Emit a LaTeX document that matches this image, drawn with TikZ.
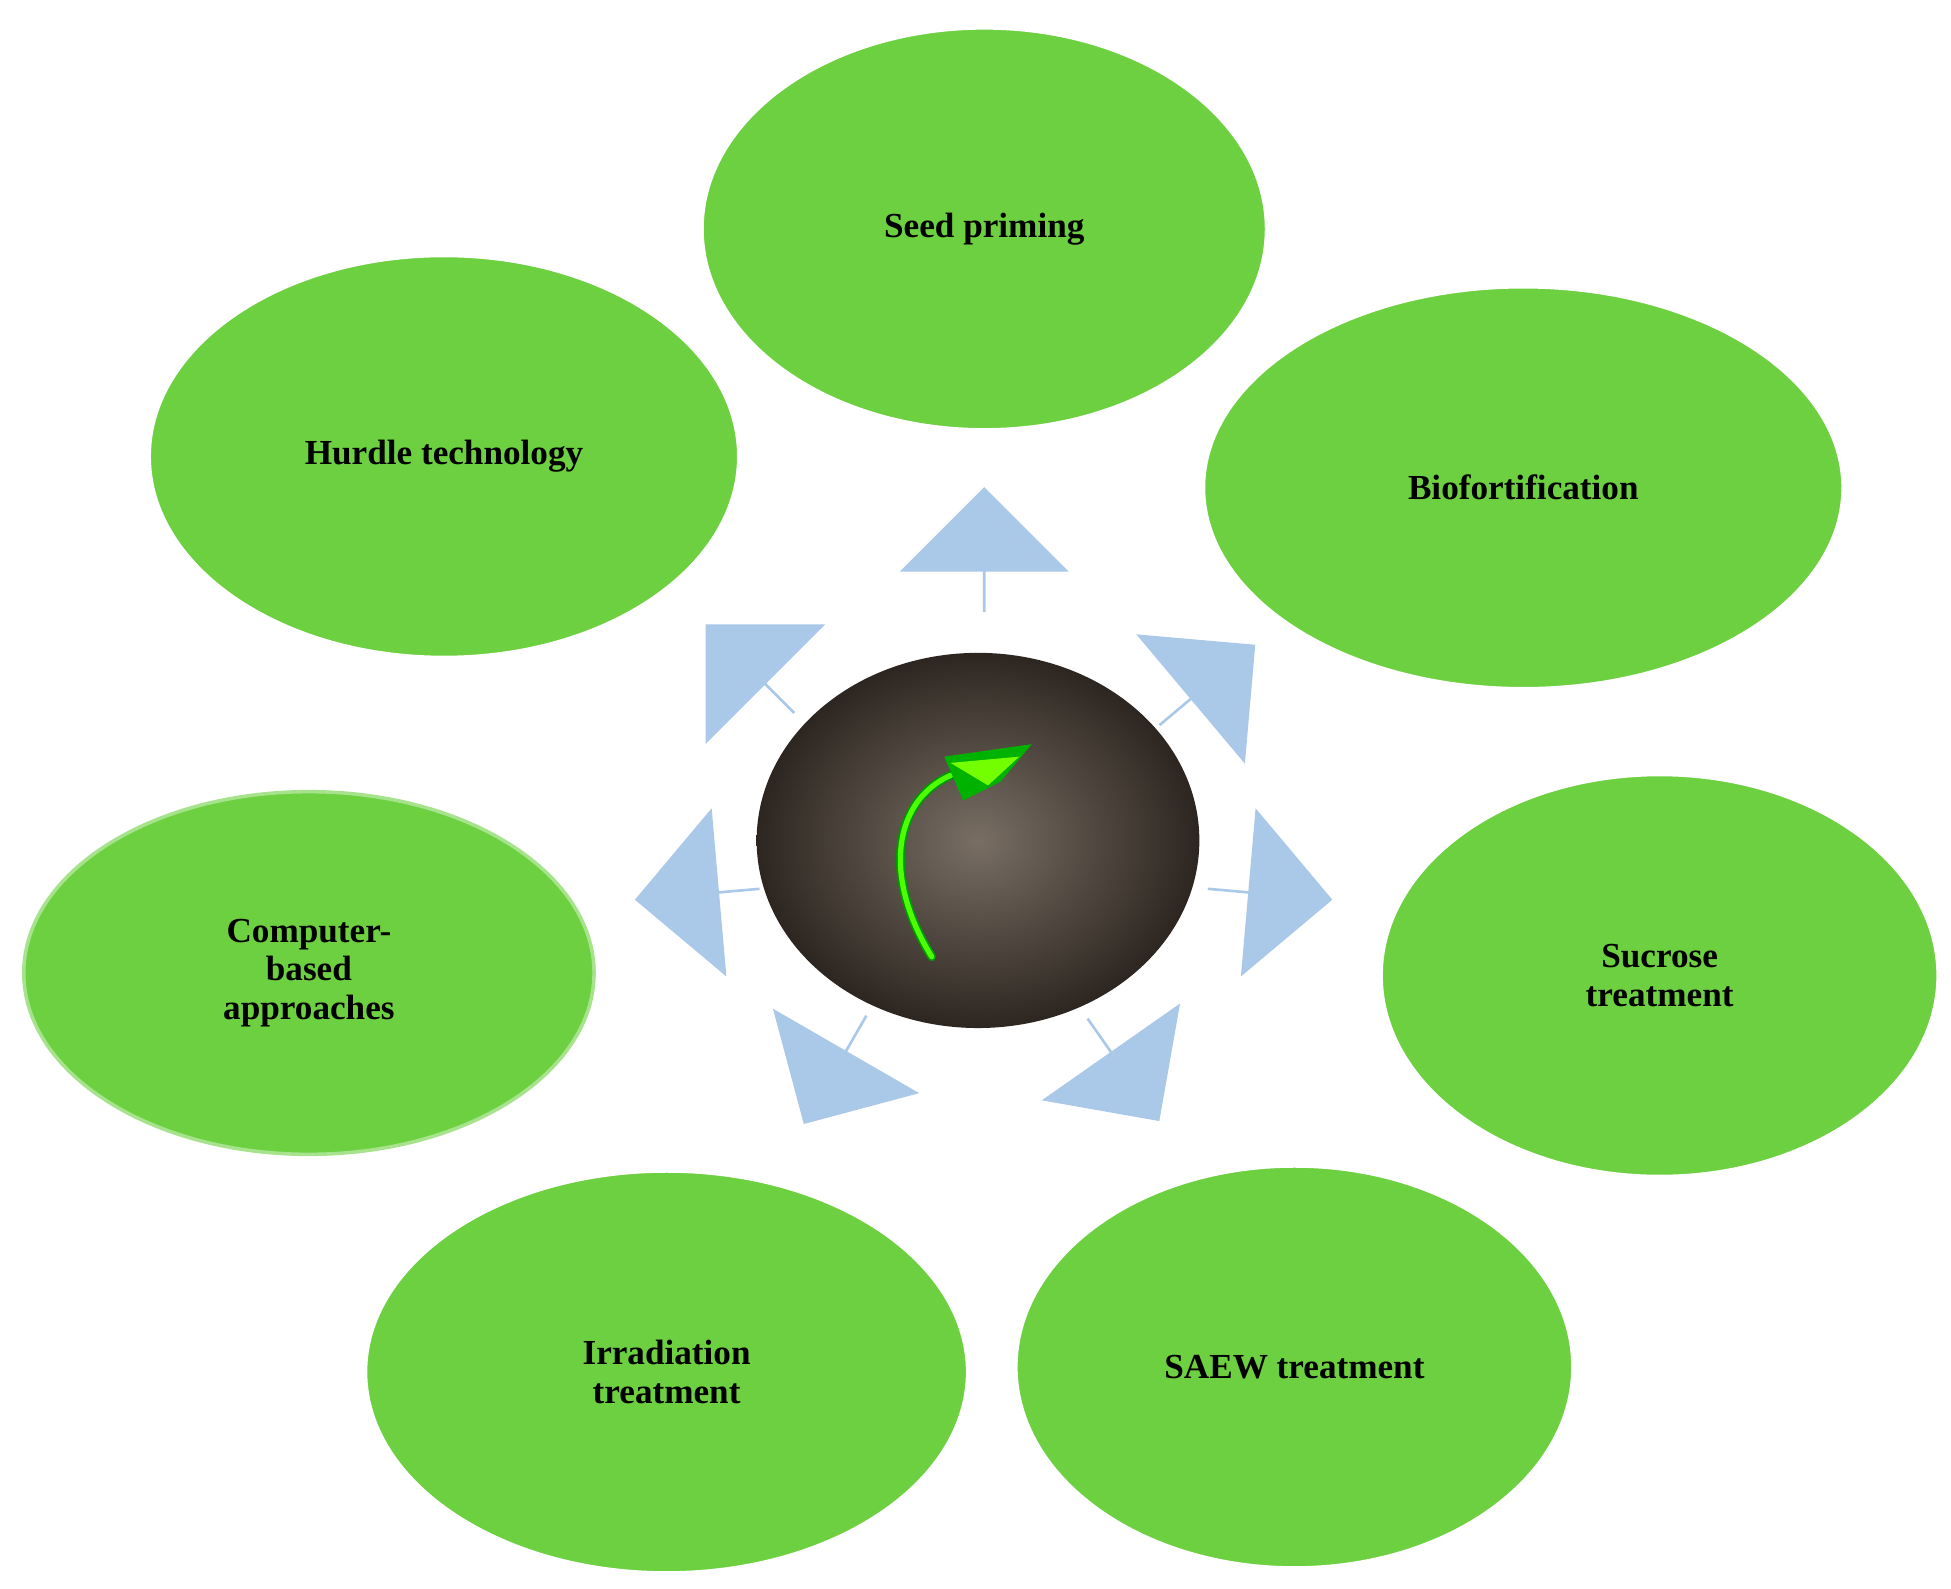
\documentclass[tikz,border=0pt]{standalone}
\usepackage{fontspec}
\setmainfont{Liberation Serif}
\usetikzlibrary{shapes.arrows,shapes.geometric}
\definecolor{leaf}{RGB}{108,208,64}
\definecolor{arr}{RGB}{170,200,232}
\definecolor{soilA}{RGB}{120,110,100}
\definecolor{soilB}{RGB}{45,38,32}
\tikzset{
  blob/.style={ellipse,fill=leaf,draw=white,line width=1pt,font=\fontsize{20}{22}\selectfont\bfseries,align=center},
  barrow/.style={single arrow,fill=arr,draw=none,minimum height=100*0.025cm,minimum width=135*0.025cm,single arrow head extend=0.45cm,inner sep=0pt}
}
\begin{document}
\begin{tikzpicture}[x=0.025cm,y=-0.025cm]
\useasboundingbox[fill=white] (0,0) rectangle (1560,1270);
\node[blob,minimum width=450*0.025cm,minimum height=320*0.025cm] (seed) at (787,183) {Seed priming};
\node[blob,minimum width=470*0.025cm,minimum height=320*0.025cm] (hurdle) at (355,365) {Hurdle technology};
\node[blob,minimum width=510*0.025cm,minimum height=320*0.025cm] (bio) at (1218,390) {Biofortification};
\node[blob,minimum width=456*0.025cm,minimum height=290*0.025cm,draw=leaf!60!white,line width=2pt] (comp) at (247,778) {Computer-\\based\\approaches};
\node[blob,minimum width=444*0.025cm,minimum height=320*0.025cm] (suc) at (1327,780) {Sucrose\\treatment};
\node[blob,minimum width=480*0.025cm,minimum height=320*0.025cm] (irr) at (533,1097) {Irradiation\\treatment};
\node[blob,minimum width=444*0.025cm,minimum height=320*0.025cm] (saew) at (1035,1093) {SAEW treatment};
% center picture
\node[ellipse,minimum width=354*0.025cm,minimum height=300*0.025cm,inner sep=0pt,shading=radial,inner color=soilA,outer color=soilB] (core) at (782,672) {};
\draw[green!60!black,line width=5pt,line cap=round] (745,765) .. controls (705,700) and (715,640) .. (760,620);
\draw[green!70!yellow,line width=3pt,line cap=round] (745,765) .. controls (705,700) and (715,640) .. (760,620);
\fill[green!70!black] (755,605) -- (825,595) -- (800,625) -- (770,640) -- cycle;
\fill[green!55!yellow] (760,610) -- (815,605) -- (790,628) -- cycle;
% arrows
\node[barrow,rotate=90] (a1) at (787,440) {};
\node[barrow,rotate=135] (a2) at (600,535) {};
\node[barrow,rotate=40] (a3) at (965,548) {};
\node[barrow,rotate=-5] (a4) at (1015,715) {};
\node[barrow,rotate=185] (a5) at (558,715) {};
\node[barrow,rotate=-120] (a6) at (668,855) {};
\node[barrow,rotate=-55] (a7) at (898,855) {};
\end{tikzpicture}
\end{document}
